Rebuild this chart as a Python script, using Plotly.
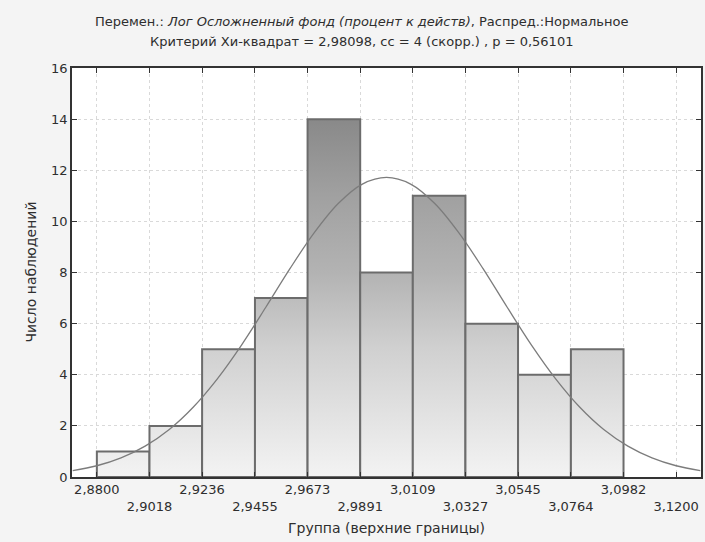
import plotly.graph_objects as go

# ---- data ----
bin_edges = [2.8800, 2.9018, 2.9236, 2.9455, 2.9673, 2.9891, 3.0109,
             3.0327, 3.0545, 3.0764, 3.0982, 3.1200]
counts = [1, 2, 5, 7, 14, 8, 11, 6, 4, 5]
tick_labels = ["2,8800", "2,9018", "2,9236", "2,9455", "2,9673", "2,9891",
               "3,0109", "3,0327", "3,0545", "3,0764", "3,0982", "3,1200"]
# expected-normal curve, values
curve_x = [2.870, 2.880, 2.890, 2.900, 2.910, 2.920, 2.930, 2.940, 2.950,
           2.960, 2.970, 2.980, 2.990, 3.000, 3.010, 3.020, 3.030, 3.040,
           3.050, 3.060, 3.070, 3.080, 3.090, 3.100, 3.110, 3.120, 3.130]
curve_y = [0.25, 0.44, 0.75, 1.21, 1.86, 2.74, 3.85, 5.17, 6.64,
           8.15, 9.55, 10.70, 11.46, 11.72, 11.46, 10.70, 9.55, 8.15,
           6.64, 5.17, 3.85, 2.74, 1.86, 1.21, 0.75, 0.44, 0.25]
title_line1 = "Перемен.: <i>Лог Осложненный фонд (процент к действ)</i>, Распред.:Нормальное"
title_line2 = "Критерий Хи-квадрат = 2,98098, сс = 4 (скорр.) , p = 0,56101"
x_title = "Группа (верхние границы)"
y_title = "Число наблюдений"

FONT = "DejaVu Sans, Verdana, sans-serif"
TXT = "#2e2e2e"

fig = go.Figure()

grad = dict(type="vertical", start=0, stop=14,
            colorscale=[[0, "#f3f3f3"], [0.36, "#d0d0d0"], [0.57, "#b3b3b3"],
                        [0.79, "#a0a0a0"], [1, "#898989"]])

for i, c in enumerate(counts):
    l, r = bin_edges[i], bin_edges[i + 1]
    fig.add_trace(go.Scatter(
        x=[l, l, r, r, l], y=[0, c, c, 0, 0],
        mode="lines", fill="toself", fillgradient=grad,
        line=dict(color="#6c6c6c", width=2),
        hoverinfo="skip", showlegend=False))

fig.add_trace(go.Scatter(
    x=curve_x, y=curve_y, mode="lines", line_shape="spline",
    line=dict(color="#7c7c7c", width=1.3), showlegend=False))

ticktext = [t if i % 2 == 0 else "<br>" + t for i, t in enumerate(tick_labels)]

annotations = [
    dict(text=title_line1, xref="paper", yref="paper", x=0.4596, y=1.1125,
         xanchor="center", yanchor="middle", showarrow=False,
         font=dict(family=FONT, size=13, color=TXT)),
    dict(text=title_line2, xref="paper", yref="paper", x=0.4596, y=1.0636,
         xanchor="center", yanchor="middle", showarrow=False,
         font=dict(family=FONT, size=13, color=TXT)),
    dict(text=x_title, xref="paper", yref="paper", x=0.5, y=-0.1247,
         xanchor="center", yanchor="middle", showarrow=False,
         font=dict(family=FONT, size=14, color=TXT)),
    dict(text=y_title, xref="paper", yref="paper", x=-0.0666, y=0.5,
         xanchor="center", yanchor="middle", showarrow=False, textangle=-90,
         font=dict(family=FONT, size=14, color=TXT)),
]

fig.update_layout(
    width=705, height=542,
    margin=dict(l=72, r=2, t=68, b=65),
    paper_bgcolor="#f4f4f4", plot_bgcolor="#ffffff",
    font=dict(family=FONT, size=13, color=TXT),
    annotations=annotations,
    xaxis=dict(range=[2.8697, 3.1303], tickmode="array",
               tickvals=bin_edges, ticktext=ticktext,
               tickfont=dict(family=FONT, size=13, color=TXT),
               ticks="inside", ticklen=5, tickcolor="#333",
               showline=True, linecolor="#333333", linewidth=1.5, mirror="ticks",
               showgrid=True, gridcolor="#d9d9d9", gridwidth=1, griddash="dot",
               zeroline=False),
    yaxis=dict(range=[0, 16], tickmode="array", tickvals=list(range(0, 17, 2)),
               tickfont=dict(family=FONT, size=13, color=TXT),
               ticks="inside", ticklen=5, tickcolor="#333",
               showline=True, linecolor="#333333", linewidth=1.5, mirror="ticks",
               showgrid=True, gridcolor="#d9d9d9", gridwidth=1, griddash="dot",
               zeroline=False),
)

fig.write_html("out.html")
